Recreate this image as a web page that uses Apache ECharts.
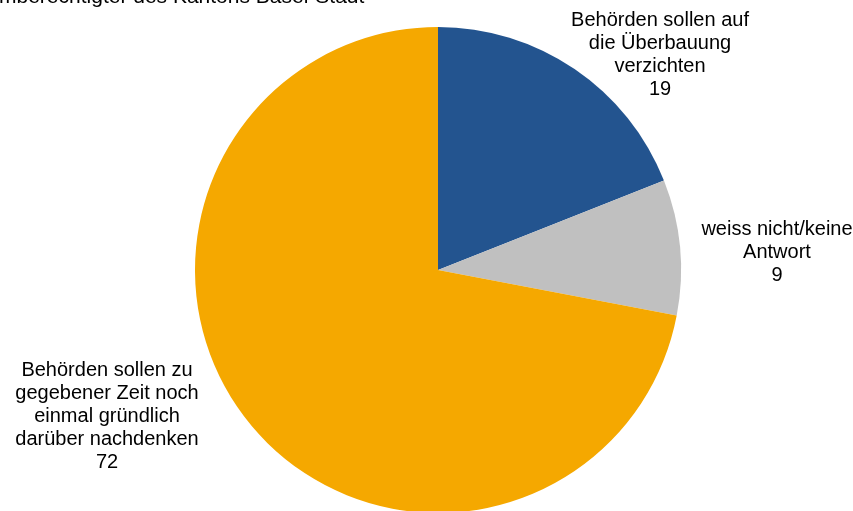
<!DOCTYPE html>
<html>
<head>
<meta charset="utf-8">
<script src="https://cdn.jsdelivr.net/npm/echarts@6/dist/echarts.min.js"></script>
<style>
  html, body { margin: 0; padding: 0; background: #fff; }
  #chart { width: 853px; height: 511px; }
</style>
</head>
<body>
<div id="chart"></div>
<script>
// Answer categories (clockwise from 12 o'clock) and shares in %
const categories = [
  'Behörden sollen auf\ndie Überbauung\nverzichten',
  'weiss nicht/keine\nAntwort',
  'Behörden sollen zu\ngegebener Zeit noch\neinmal gründlich\ndarüber nachdenken'
];
const shares = [19, 9, 72];
const sliceColors = ['#23548F', '#C0C0C0', '#F5A800'];
const subtitleText = 'mberechtigter des Kantons Basel-Stadt';

// Where each label block is centred
const labelAnchors = [
  [660, 55],
  [777, 252],
  [107, 416]
];

const chart = echarts.init(document.getElementById('chart'), null, { renderer: 'canvas' });
const FONT = '"Liberation Sans", Arial, sans-serif';

chart.setOption({
  animation: false,
  backgroundColor: '#ffffff',
  graphic: [{
    type: 'text',
    left: -1,
    top: -13,
    style: {
      text: subtitleText,
      fill: '#000',
      font: '21px ' + FONT
    }
  }],
  series: [{
    type: 'pie',
    center: [438, 270],
    radius: 243,
    startAngle: 90,
    clockwise: true,
    silent: true,
    itemStyle: { borderWidth: 0 },
    label: {
      show: true,
      position: 'outside',
      formatter: '{b}\n{c}',
      color: '#000',
      fontFamily: FONT,
      fontSize: 20,
      lineHeight: 23,
      align: 'center',
      overflow: 'none',
      edgeDistance: 0
    },
    labelLine: { show: false },
    labelLayout: function (params) {
      const a = labelAnchors[params.dataIndex];
      return { x: a[0], y: a[1], align: 'center', verticalAlign: 'middle' };
    },
    data: categories.map((name, i) => ({
      name: name,
      value: shares[i],
      itemStyle: { color: sliceColors[i] }
    }))
  }]
});
</script>
</body>
</html>
